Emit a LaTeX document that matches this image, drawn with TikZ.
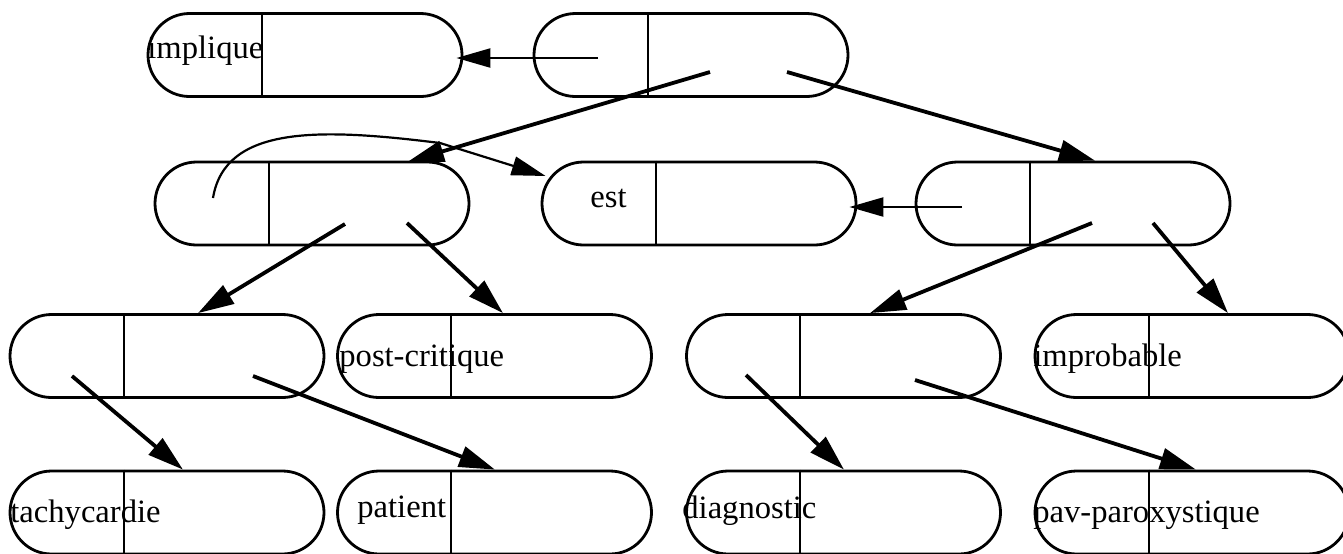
\documentclass[tikz,border=0pt]{standalone}
\usepackage{fontspec}
\setmainfont{Liberation Serif}
\usetikzlibrary{
    arrows.meta,
    calc
}
\tikzset{
    lispCell/.style={
        draw=black,
        line width=1.4pt,
        rounded corners=20.75pt,
        minimum width=157pt,
        minimum height=41.5pt,
        inner sep=0pt
    },
    lispAtom/.style={anchor=base west,inner sep=0pt,font=\fontsize{16.3}{19}\selectfont},
    lispDivider/.style={line width=1pt},
    lispArrow/.style={-{Triangle[length=18pt,width=10.5pt]},line width=1.9pt},
    lispLink/.style={-{Triangle[length=17pt,width=9.5pt]},line width=1.1pt}
}

\begin{document}
\begin{tikzpicture}[x=0.5pt,y=-0.5pt]
        \useasboundingbox (0,0) rectangle (1343,553);
        \clip (0,0) rectangle (1343,553);

        % cells, row by row
        \node[lispCell] (impl) at (305,55) {};
        \node[lispCell] (root) at (691,55) {};

        \node[lispCell] (left) at (312,203.5) {};
        \node[lispCell] (est) at (699,203.5) {};
        \node[lispCell] (right) at (1073,203.5) {};

        \node[lispCell] (ll) at (167,356) {};
        \node[lispCell] (post) at (494.5,356) {};
        \node[lispCell] (rl) at (843.5,356) {};
        \node[lispCell] (impr) at (1192,356) {};

        \node[lispCell] (tachy) at (167,512.5) {};
        \node[lispCell] (pat) at (494.5,512.5) {};
        \node[lispCell] (diag) at (843.5,512.5) {};
        \node[lispCell] (pav) at (1192,512.5) {};

        % car / cdr split
        \foreach \n in {impl,root,left,est,right,ll,post,rl,impr,tachy,pat,diag,pav}
            \draw[lispDivider] ($(\n.north west)+(115,0)$) -- ($(\n.south west)+(115,0)$);

        % pointer origins
        \coordinate (rootCar) at ($(root.center)+(-93,3)$);
        \coordinate (rootCdrA) at ($(root.center)+(19,17)$);
        \coordinate (rootCdrB) at ($(root.center)+(96,17)$);
        \coordinate (leftCar) at ($(left.center)+(-99,-5.5)$);
        \coordinate (leftCdrA) at ($(left.center)+(33,20.5)$);
        \coordinate (leftCdrB) at ($(left.center)+(95,19.5)$);
        \coordinate (rightCar) at ($(right.center)+(-111,3.5)$);
        \coordinate (rightCdrA) at ($(right.center)+(19,19.5)$);
        \coordinate (rightCdrB) at ($(right.center)+(80,19.5)$);
        \coordinate (llCdrA) at ($(ll.center)+(-95,20)$);
        \coordinate (llCdrB) at ($(ll.center)+(86,20)$);
        \coordinate (rlCdrA) at ($(rl.center)+(-97.5,19)$);
        \coordinate (rlCdrB) at ($(rl.center)+(71.5,24)$);
        \coordinate (kink) at (440,143);

        % arrows
        \draw[lispLink] (rootCar) -- ($(impl.east)+(-7,3)$);
        \draw[lispArrow] (rootCdrA) -- ($(left.north)+(96,1)$);
        \draw[lispArrow] (rootCdrB) -- ($(right.north)+(22,0)$);

        \draw[lispLink] (leftCar) .. controls (225,125) and (320,128) .. (kink)
            -- ($(est.west)+(5,-27.5)$);
        \draw[lispLink] (rightCar) -- ($(est.east)+(-8,3.5)$);

        \draw[lispArrow] (leftCdrA) -- ($(ll.north)+(31,0)$);
        \draw[lispArrow] (leftCdrB) -- ($(post.north)+(8.5,0)$);
        \draw[lispArrow] (rightCdrA) -- ($(rl.north)+(26.5,0)$);
        \draw[lispArrow] (rightCdrB) -- ($(impr.north)+(36,0)$);

        \draw[lispArrow] (llCdrA) -- ($(tachy.north)+(16,0)$);
        \draw[lispArrow] (llCdrB) -- ($(pat.north)+(0.5,0)$);
        \draw[lispArrow] (rlCdrA) -- ($(diag.north)+(0.5,0)$);
        \draw[lispArrow] (rlCdrB) -- ($(pav.north)+(4,0)$);

        % atoms
        \node[lispAtom] (impliqueTxt) at (147,58) {implique};
        \node[lispAtom] (estTxt) at (590,207) {est};
        \node[lispAtom] (postTxt) at (339,366) {post-critique};
        \node[lispAtom] (imprTxt) at (1033,366) {improbable};
        \node[lispAtom] (tachyTxt) at (10,522) {tachycardie};
        \node[lispAtom] (patTxt) at (357,517) {patient};
        \node[lispAtom] (diagTxt) at (682,518) {diagnostic};
        \node[lispAtom] (pavTxt) at (1033,522) {pav-paroxystique};
\end{tikzpicture}
\end{document}
